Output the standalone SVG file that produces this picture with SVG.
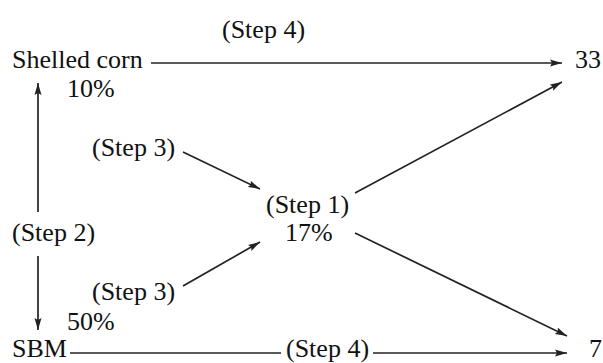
<svg xmlns="http://www.w3.org/2000/svg" width="603" height="363" viewBox="0 0 603 363">
<style>
text{font-family:"Liberation Serif","Times New Roman",serif;font-size:26px;fill:#111}
.c line{stroke:#222;stroke-width:1.7;fill:none;marker-end:url(#ah)}
.c line.n{marker-end:none}
</style>
<defs>
<marker id="ah" markerUnits="userSpaceOnUse" markerWidth="13" markerHeight="8" refX="12" refY="4" orient="auto">
<path d="M0,0.5 L12,4 L0,7.5 L2,4 Z" fill="#222"/>
</marker>
</defs>
<rect width="603" height="363" fill="#fff"/>
<g id="step4top"><text x="222" y="38">(Step 4)</text></g>
<g id="corn"><text x="12" y="68">Shelled corn</text><text x="67" y="97">10%</text></g>
<g id="out33"><text x="575" y="68">33</text></g>
<g id="step3a"><text x="92" y="156">(Step 3)</text></g>
<g id="step1"><text x="266" y="213">(Step 1)</text><text x="285" y="241">17%</text></g>
<g id="step2"><text x="12" y="241">(Step 2)</text></g>
<g id="step3b"><text x="92" y="300">(Step 3)</text></g>
<g id="sbm"><text x="67" y="330">50%</text><text x="12" y="357">SBM</text></g>
<g id="step4bot"><text x="286" y="357">(Step 4)</text></g>
<g id="out7"><text x="589" y="357">7</text></g>
<g class="c" id="connectors">
<line x1="151" y1="63" x2="562" y2="63"/>
<line x1="38" y1="212" x2="38" y2="83"/>
<line x1="38" y1="256" x2="38" y2="330"/>
<line x1="183" y1="152" x2="260" y2="189"/>
<line x1="183" y1="286" x2="260" y2="242"/>
<line x1="355" y1="193" x2="562" y2="82"/>
<line x1="355" y1="233" x2="567" y2="336"/>
<line class="n" x1="70" y1="353" x2="281" y2="353"/>
<line x1="373" y1="353" x2="567" y2="353"/>
</g>
</svg>
